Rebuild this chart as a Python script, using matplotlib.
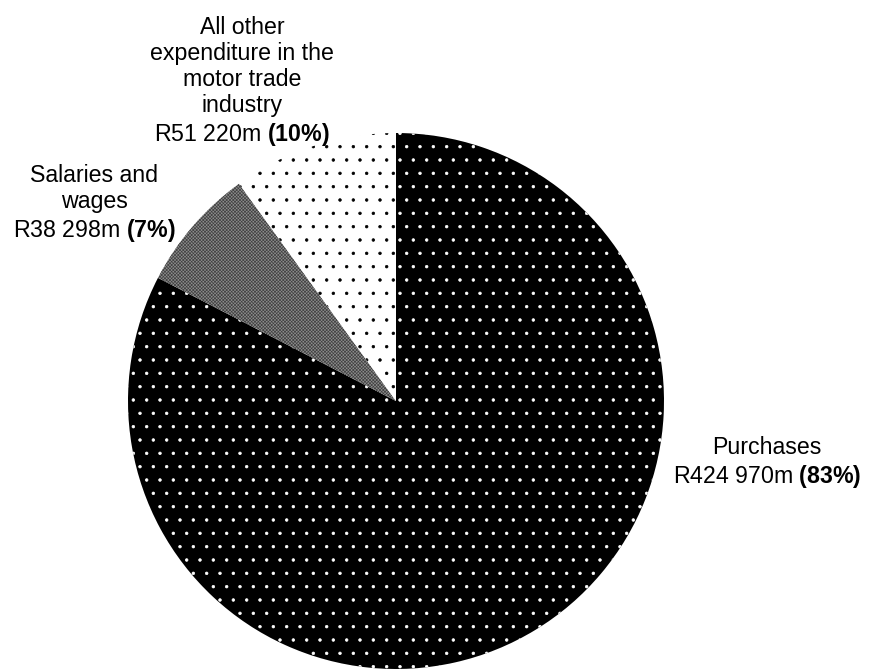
import numpy as np
import matplotlib.pyplot as plt

plt.rcParams['font.family'] = ['Liberation Sans', 'DejaVu Sans']
plt.rcParams['mathtext.fontset'] = 'custom'
plt.rcParams['mathtext.rm'] = 'Liberation Sans'
plt.rcParams['mathtext.bf'] = 'Liberation Sans:bold'
plt.rcParams['hatch.linewidth'] = 0.6

# data (R million)
names = ["Purchases", "Salaries and\nwages", "All other\nexpenditure in the\nmotor trade\nindustry"]
values = [424970, 38298, 51220]
amounts = ["R424 970m", "R38 298m", "R51 220m"]
label_pos = [(1.385, -0.232), (-1.125, 0.735), (-0.575, 1.19)]

faces = ["black", "#8c8c8c", "white"]
hatch_cols = ["white", "#404040", "black"]
hatches = [".", "xxxxxxxx", "."]

dpi = 80
fig = plt.figure(figsize=(870 / dpi, 670 / dpi), dpi=dpi)
ax = fig.add_axes([0, 0, 1, 1])

wedges, _ = ax.pie(values, startangle=90, counterclock=False, radius=1.0,
                   wedgeprops=dict(linewidth=0))
for w, fc, hc, h in zip(wedges, faces, hatch_cols, hatches):
    w.set_facecolor(fc)
    w.set_edgecolor(hc)
    w.set_hatch(h)
    w.set_linewidth(0)

total = sum(values)
for name, amt, v, (x, y) in zip(names, amounts, values, label_pos):
    pct = round(v / total * 100)
    txt = name + "\n" + amt + " $\\mathbf{(" + str(pct) + "\\%)}$"
    ax.text(x, y, txt, ha="center", va="center", multialignment="center",
            fontsize=20.8, linespacing=1.17)

ax.set_xlim(-396 / 268, (870 - 396) / 268)
ax.set_ylim(-(670 - 401) / 268, 401 / 268)
ax.set_aspect("auto")
ax.axis("off")

fig.savefig("out.png", dpi=dpi)
